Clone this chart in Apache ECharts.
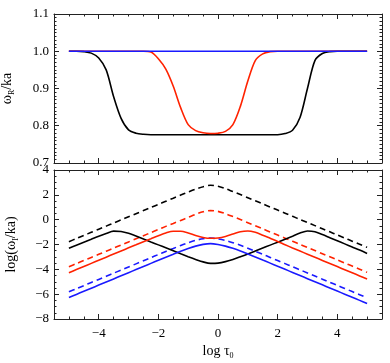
<!DOCTYPE html>
<html>
<head>
<meta charset="utf-8">
<script src="https://cdn.jsdelivr.net/npm/echarts@6/dist/echarts.min.js"></script>
<style>
  html, body { margin: 0; padding: 0; background: #fff; }
  #chart { width: 390px; height: 363px; }
</style>
</head>
<body>
<div id="chart"></div>
<script>
// log tau_0 sample points
const logTau = [-5, -4.75, -4.5, -4.25, -4, -3.75, -3.5, -3.25, -3, -2.75, -2.5, -2.25, -2, -1.75, -1.5, -1.25, -1, -0.75, -0.5, -0.25,
  0, 0.25, 0.5, 0.75, 1, 1.25, 1.5, 1.75, 2, 2.25, 2.5, 2.75, 3, 3.25, 3.5, 3.75, 4, 4.25, 4.5, 4.75, 5];

// top panel: omega_R / ka
const wrBlack = [1.0, 1.0, 0.999, 0.995, 0.982, 0.950, 0.878, 0.820, 0.789, 0.780, 0.777,
  0.776, 0.776, 0.776, 0.776, 0.776, 0.776, 0.776, 0.776, 0.776, 0.776, 0.776, 0.776, 0.776, 0.776, 0.776, 0.776, 0.776, 0.776,
  0.779, 0.788, 0.822, 0.900, 0.975, 0.994, 0.999, 1.0, 1.0, 1.0, 1.0, 1.0];
const wrRed = [1.0, 1.0, 1.0, 1.0, 1.0, 1.0, 1.0, 1.0, 1.0, 1.0, 1.0,
  0.998, 0.980, 0.952, 0.906, 0.848, 0.803, 0.787, 0.781, 0.779, 0.780, 0.785, 0.803, 0.852, 0.920, 0.975, 0.993, 0.999,
  1.0, 1.0, 1.0, 1.0, 1.0, 1.0, 1.0, 1.0, 1.0, 1.0, 1.0, 1.0, 1.0];
const wrBlue = [1.0, 1.0, 1.0, 1.0, 1.0, 1.0, 1.0, 1.0, 1.0, 1.0, 1.0, 1.0, 1.0, 1.0, 1.0, 1.0, 1.0, 1.0, 1.0, 1.0,
  1.0, 1.0, 1.0, 1.0, 1.0, 1.0, 1.0, 1.0, 1.0, 1.0, 1.0, 1.0, 1.0, 1.0, 1.0, 1.0, 1.0, 1.0, 1.0, 1.0, 1.0];

// bottom panel: log(omega_I / ka), solid and dashed
const wiBlack = [-2.31, -2.06, -1.81, -1.57, -1.33, -1.11, -0.92, -0.95, -1.10, -1.32, -1.55, -1.79, -2.03, -2.27, -2.51, -2.75, -2.98, -3.20, -3.40, -3.52,
  -3.50, -3.38, -3.20, -2.99, -2.77, -2.53, -2.29, -2.05, -1.81, -1.57, -1.33, -1.08, -0.91, -0.97, -1.20, -1.45, -1.70, -1.95, -2.20, -2.45, -2.72];
const wiBlackDash = [-1.77, -1.52, -1.27, -1.02, -0.77, -0.52, -0.27, -0.02, 0.23, 0.48, 0.73, 0.98, 1.23, 1.48, 1.73, 1.98, 2.22, 2.45, 2.65, 2.77,
  2.69, 2.50, 2.26, 2.02, 1.77, 1.52, 1.27, 1.02, 0.77, 0.52, 0.27, 0.02, -0.23, -0.48, -0.73, -0.98, -1.23, -1.48, -1.73, -1.98, -2.23];
const wiRed = [-4.27, -4.02, -3.77, -3.52, -3.27, -3.02, -2.77, -2.52, -2.27, -2.02, -1.77, -1.53, -1.29, -1.07, -0.93, -0.93, -1.07, -1.27, -1.43, -1.50,
  -1.47, -1.35, -1.16, -0.97, -0.91, -1.02, -1.25, -1.50, -1.75, -2.02, -2.28, -2.53, -2.78, -3.03, -3.28, -3.53, -3.78, -4.03, -4.28, -4.53, -4.78];
const wiRedDash = [-3.79, -3.54, -3.29, -3.04, -2.79, -2.54, -2.29, -2.04, -1.79, -1.54, -1.29, -1.04, -0.79, -0.54, -0.30, -0.06, 0.18, 0.43, 0.63, 0.73,
  0.67, 0.48, 0.25, 0.01, -0.24, -0.49, -0.74, -0.99, -1.24, -1.49, -1.74, -1.99, -2.24, -2.49, -2.74, -2.99, -3.24, -3.49, -3.74, -3.99, -4.24];
const wiBlue = [-6.27, -6.02, -5.77, -5.52, -5.27, -5.02, -4.77, -4.52, -4.27, -4.02, -3.77, -3.52, -3.27, -3.02, -2.78, -2.54, -2.32, -2.13, -1.99, -1.93,
  -2.00, -2.13, -2.31, -2.52, -2.76, -3.00, -3.25, -3.50, -3.75, -4.00, -4.25, -4.50, -4.75, -5.00, -5.25, -5.50, -5.75, -6.00, -6.25, -6.50, -6.75];
const wiBlueDash = [-5.81, -5.56, -5.31, -5.06, -4.81, -4.56, -4.31, -4.06, -3.81, -3.56, -3.31, -3.06, -2.81, -2.56, -2.32, -2.08, -1.86, -1.67, -1.54, -1.48,
  -1.55, -1.67, -1.85, -2.06, -2.30, -2.54, -2.79, -3.04, -3.29, -3.54, -3.79, -4.04, -4.29, -4.54, -4.79, -5.04, -5.29, -5.54, -5.79, -6.04, -6.29];

const xMajor = [-4, -2, 0, 2, 4];

const BLACK = "#000000";
const RED = "#ff2200";
const BLUE = "#1a1aff";
const FONT = "Liberation Serif";

const fmtMinus = (v) => String(v).replace("-", "\u2212");
const pairs = (ys) => logTau.map((x, i) => [x, ys[i]]);

const nameRich = {
  a: { fontFamily: FONT, fontSize: 14, color: "#000", lineHeight: 18, verticalAlign: "middle" },
  b: { fontFamily: FONT, fontSize: 8, color: "#000", lineHeight: 8, verticalAlign: "bottom" },
};

// 4 x axes per panel: major bottom/top + minor bottom/top
function makeXAxes(gridIndex, labels) {
  const base = {
    type: "value",
    gridIndex: gridIndex,
    min: -5.5,
    max: 5.5,
    splitLine: { show: false },
  };
  const major = (position, withLabel) => ({
    ...base,
    position: position,
    axisLine: { show: true, onZero: false, lineStyle: { color: "#222", width: 1 } },
    axisTick: { show: true, inside: true, length: 5, customValues: xMajor, lineStyle: { color: "#222" } },
    axisLabel: withLabel
      ? { show: true, customValues: xMajor, margin: 8, fontFamily: FONT, fontSize: 13, color: "#000", formatter: fmtMinus }
      : { show: false },
    name: withLabel ? "{a|log τ}{b|0}" : "",
    nameLocation: "middle",
    nameGap: 23,
    nameTextStyle: { rich: nameRich },
  });
  const minor = (position) => ({
    ...base,
    position: position,
    interval: 0.5,
    axisLine: { show: false, onZero: false },
    axisTick: { show: true, inside: true, length: 2.5, lineStyle: { color: "#222" } },
    axisLabel: { show: false },
  });
  return [major("bottom", labels), major("top", false), minor("bottom"), minor("top")];
}

function makeYAxes(gridIndex, min, max, interval, minorSplit, decimals, name, nameGap) {
  const base = {
    type: "value",
    gridIndex: gridIndex,
    min: min,
    max: max,
    interval: interval,
    splitLine: { show: false },
    axisLine: { show: true, onZero: false, lineStyle: { color: "#222", width: 1 } },
    axisTick: { show: true, inside: true, length: 5, lineStyle: { color: "#222" } },
    minorTick: { show: true, splitNumber: minorSplit, length: 2.5, lineStyle: { color: "#222" } },
    minorSplitLine: { show: false },
  };
  return [
    {
      ...base,
      position: "left",
      axisLabel: {
        margin: 5,
        fontFamily: FONT,
        fontSize: 13,
        color: "#000",
        formatter: (v) => fmtMinus(v.toFixed(decimals)),
      },
      name: name,
      nameLocation: "middle",
      nameRotate: 90,
      nameGap: nameGap,
      nameTextStyle: { rich: nameRich },
    },
    { ...base, position: "right", axisLabel: { show: false } },
  ];
}

function line(data, color, gridIdx, dashed) {
  return {
    type: "line",
    xAxisIndex: gridIdx * 4,
    yAxisIndex: gridIdx * 2,
    data: pairs(data),
    showSymbol: false,
    smooth: 0.3,
    lineStyle: { color: color, width: 1.6, type: dashed ? [6, 4] : "solid" },
    z: 3,
    silent: true,
  };
}

const chart = echarts.init(document.getElementById("chart"), null, { renderer: "canvas" });

const option = {
  backgroundColor: "#fff",
  animation: false,
  grid: [
    { left: 54, right: 8, top: 14, height: 149, containLabel: false, outerBoundsMode: "none" },
    { left: 54, right: 8, top: 170, height: 149, containLabel: false, outerBoundsMode: "none" },
  ],
  xAxis: [...makeXAxes(0, false), ...makeXAxes(1, true)],
  yAxis: [
    ...makeYAxes(0, 0.7, 1.1, 0.1, 10, 1, "{a|ω}{b|R}{a|/ka}", 38),
    ...makeYAxes(1, -8, 4, 2, 4, 0, "{a|log(ω}{b|I}{a|/ka)}", 34),
  ],
  series: [
    line(wrBlack, BLACK, 0, false),
    line(wrRed, RED, 0, false),
    line(wrBlue, BLUE, 0, false),
    line(wiBlackDash, BLACK, 1, true),
    line(wiRedDash, RED, 1, true),
    line(wiBlueDash, BLUE, 1, true),
    line(wiBlack, BLACK, 1, false),
    line(wiRed, RED, 1, false),
    line(wiBlue, BLUE, 1, false),
  ],
};

chart.setOption(option);
</script>
</body>
</html>
